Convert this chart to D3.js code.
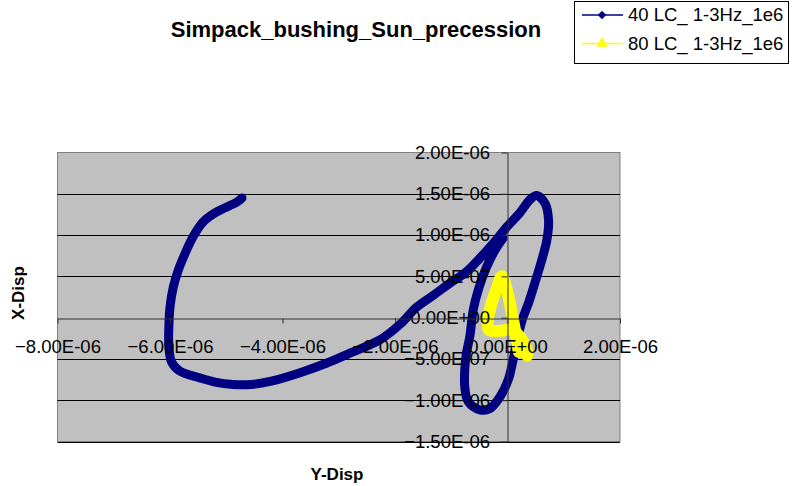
<!DOCTYPE html>
<html>
<head>
<meta charset="utf-8">
<script src="https://cdn.jsdelivr.net/npm/d3@7"></script>
<style>
  body { margin: 0; background: #fff; }
  svg { display: block; font-family: "Liberation Sans", Arial, sans-serif; }
</style>
</head>
<body>
<svg></svg>
<script>
// values (metres)
const blueX = [-4.72e-6, -4.81e-6, -5.17e-6, -5.41e-6, -5.59e-6, -5.73e-6, -5.85e-6, -5.94e-6, -6.00e-6, -6.02e-6,
  -6.02e-6, -5.97e-6, -5.82e-6, -5.47e-6, -5.20e-6, -4.88e-6, -4.55e-6, -4.20e-6, -3.70e-6, -3.21e-6,
  -2.80e-6, -2.27e-6, -1.91e-6, -1.61e-6, -1.32e-6, -1.02e-6, -0.73e-6, -0.49e-6, -0.19e-6, -0.01e-6,
  0.22e-6, 0.40e-6, 0.52e-6, 0.67e-6, 0.73e-6, 0.70e-6, 0.61e-6, 0.50e-6, 0.38e-6, 0.26e-6,
  0.16e-6, 0.075e-6, 0.015e-6, -0.13e-6, -0.31e-6, -0.49e-6, -0.70e-6, -0.76e-6, -0.76e-6,
  -0.73e-6, -0.67e-6, -0.61e-6, -0.52e-6, -0.38e-6, -0.22e-6, -0.08e-6];
const blueY = [1.45e-6, 1.40e-6, 1.28e-6, 1.16e-6, 0.98e-6, 0.78e-6, 0.58e-6, 0.375e-6, 0.13e-6, -0.11e-6,
  -0.35e-6, -0.54e-6, -0.65e-6, -0.73e-6, -0.78e-6, -0.81e-6, -0.81e-6, -0.77e-6, -0.67e-6, -0.55e-6,
  -0.43e-6, -0.27e-6, -0.08e-6, 0.13e-6, 0.27e-6, 0.42e-6, 0.556e-6, 0.72e-6, 0.95e-6, 1.10e-6,
  1.27e-6, 1.43e-6, 1.48e-6, 1.38e-6, 1.18e-6, 0.94e-6, 0.70e-6, 0.45e-6, 0.19e-6, -0.03e-6,
  -0.31e-6, -0.59e-6, -0.75e-6, -0.955e-6, -1.10e-6, -1.116e-6, -1.016e-6, -0.834e-6, -0.63e-6,
  -0.43e-6, -0.23e-6, 0.093e-6, 0.335e-6, 0.60e-6, 0.82e-6, 0.96e-6];

const yellowX = [0.20e-6, 0.15e-6, 0.08e-6, 0.01e-6, -0.10e-6, -0.20e-6, -0.29e-6, -0.35e-6, -0.33e-6,
  -0.13e-6, 0.08e-6, 0.26e-6, 0.35e-6, 0.35e-6];
const yellowY = [-0.415e-6, -0.21e-6, 0.033e-6, 0.275e-6, 0.50e-6, 0.335e-6, 0.154e-6, -0.028e-6, -0.149e-6,
  -0.16e-6, -0.149e-6, -0.27e-6, -0.415e-6, -0.46e-6];

const seriesNames = ["40 LC_ 1-3Hz_1e6", "80 LC_ 1-3Hz_1e6"];
const seriesColors = ["#000080", "#FFFF00"];

const xTicks = [-8e-6, -6e-6, -4e-6, -2e-6, 0, 2e-6];
const yTicks = [-1.5e-6, -1e-6, -5e-7, 0, 5e-7, 1e-6, 1.5e-6, 2e-6];

const width = 792;
const height = 486;

const svg = d3.select("svg").attr("width", width).attr("height", height);

const x = d3.scaleLinear().domain([-8e-6, 2e-6]).range([57.5, 620]);
const y = d3.scaleLinear().domain([-1.5e-6, 2e-6]).range([441.5, 152.5]);

// Excel style scientific labels
function sci(v) {
  if (v === 0) return "0.00E+00";
  const parts = d3.format(".2e")(v).split("e");
  const e = +parts[1];
  return parts[0] + "E" + (e < 0 ? "-" : "+") + String(Math.abs(e)).padStart(2, "0");
}

// plot area
svg.append("rect")
  .attr("x", 57.5).attr("y", 152.5)
  .attr("width", 562.5).attr("height", 289)
  .attr("fill", "#C0C0C0")
  .attr("stroke", "#808080")
  .attr("stroke-width", 1);

svg.append("g")
  .selectAll("line")
  .data(yTicks.filter(d => d !== 0 && d !== 2e-6))
  .enter()
  .append("line")
  .attr("x1", 57.5).attr("x2", 620)
  .attr("y1", d => Math.round(y(d)) + 0.5)
  .attr("y2", d => Math.round(y(d)) + 0.5)
  .attr("stroke", "#000")
  .attr("stroke-width", 1);

// series
const line = d3.line()
  .x(d => x(d[0]))
  .y(d => y(d[1]))
  .curve(d3.curveCatmullRom.alpha(0.5));

const blue = d3.zip(blueX, blueY);
const yellow = d3.zip(yellowX, yellowY);

svg.append("path")
  .datum(blue)
  .attr("d", line)
  .attr("fill", "none")
  .attr("stroke", seriesColors[0])
  .attr("stroke-width", 9)
  .attr("stroke-linejoin", "round")
  .attr("stroke-linecap", "round");

svg.append("path")
  .datum(yellow)
  .attr("d", line)
  .attr("fill", "none")
  .attr("stroke", seriesColors[1])
  .attr("stroke-width", 12)
  .attr("stroke-linejoin", "round")
  .attr("stroke-linecap", "round");

// axes crossing at zero
const yAxis = svg.append("g")
  .attr("transform", `translate(${x(0)},0)`)
  .call(d3.axisLeft(y).tickValues(yTicks).tickFormat(sci).tickSize(6).tickSizeOuter(0).tickPadding(11.5));

const xAxis = svg.append("g")
  .attr("transform", `translate(0,${Math.round(y(0)) + 0.5})`)
  .call(d3.axisBottom(x).tickValues(xTicks).tickFormat(sci).tickSize(5).tickSizeOuter(0).tickPadding(16));

[xAxis, yAxis].forEach(function (g) {
  g.select(".domain").attr("stroke", "#303030");
  g.selectAll(".tick line").attr("stroke", "#303030");
  g.selectAll(".tick text")
    .attr("fill", "#000")
    .style("font-size", "18.5px")
    .style("font-family", "'Liberation Sans', Arial, sans-serif");
});

// titles
svg.append("text")
  .attr("x", 356).attr("y", 36.5)
  .attr("text-anchor", "middle")
  .style("font-size", "22px")
  .style("font-weight", "bold")
  .text("Simpack_bushing_Sun_precession");

svg.append("text")
  .attr("x", 337).attr("y", 480)
  .attr("text-anchor", "middle")
  .style("font-size", "17px")
  .style("font-weight", "bold")
  .text("Y-Disp");

svg.append("text")
  .attr("transform", "translate(24,293) rotate(-90)")
  .attr("text-anchor", "middle")
  .style("font-size", "17px")
  .style("font-weight", "bold")
  .text("X-Disp");

// legend
const legend = svg.append("g");
legend.append("rect")
  .attr("x", 574.5).attr("y", 1.5)
  .attr("width", 214).attr("height", 62)
  .attr("fill", "#fff")
  .attr("stroke", "#000")
  .attr("stroke-width", 1);

const items = legend.selectAll(".item")
  .data(seriesNames)
  .enter()
  .append("g")
  .attr("class", "item")
  .attr("transform", (d, i) => `translate(0,${15 + i * 28.5})`);

items.append("line")
  .attr("x1", 582).attr("x2", 623)
  .attr("stroke", (d, i) => seriesColors[i])
  .attr("stroke-width", 1.5);

items.append("path")
  .attr("transform", "translate(602,0)")
  .attr("d", (d, i) => i === 0
    ? d3.symbol(d3.symbolDiamond2, 45)()
    : d3.symbol(d3.symbolTriangle, 55)())
  .attr("fill", (d, i) => seriesColors[i]);

items.append("text")
  .attr("x", 628)
  .attr("y", 6)
  .style("font-size", "18.5px")
  .text(d => d);
</script>
</body>
</html>
